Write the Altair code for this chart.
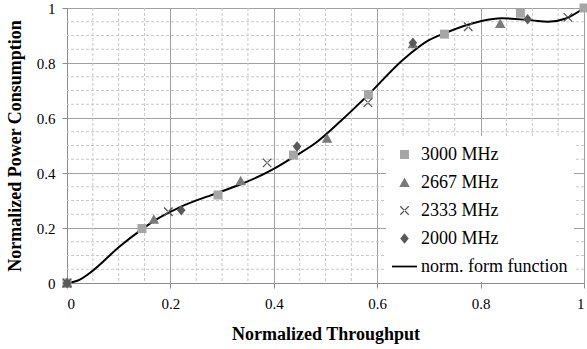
import altair as alt
import pandas as pd

series_names = ["3000 MHz", "2667 MHz", "2333 MHz", "2000 MHz", "norm. form function"]

x_3000 = [0.0, 0.145, 0.292, 0.438, 0.583, 0.730, 0.877, 1.0]
y_3000 = [0.0, 0.198, 0.320, 0.465, 0.685, 0.905, 0.981, 1.0]
x_2667 = [0.0, 0.168, 0.336, 0.503, 0.669, 0.838]
y_2667 = [0.0, 0.232, 0.372, 0.526, 0.870, 0.944]
x_2333 = [0.0, 0.196, 0.387, 0.582, 0.776, 0.969]
y_2333 = [0.0, 0.259, 0.437, 0.656, 0.932, 0.966]
x_2000 = [0.0, 0.221, 0.445, 0.669, 0.891]
y_2000 = [0.0, 0.265, 0.496, 0.874, 0.959]

curve_x = [0.0, 0.02, 0.05, 0.1, 0.146, 0.17, 0.22, 0.29, 0.335, 0.4, 0.44, 0.48,
           0.53, 0.583, 0.65, 0.70, 0.73, 0.8, 0.84, 0.9, 0.93, 0.965, 1.0]
curve_y = [0.0, 0.008, 0.045, 0.13, 0.197, 0.228, 0.277, 0.327, 0.358, 0.415, 0.46, 0.508,
           0.59, 0.685, 0.812, 0.883, 0.908, 0.952, 0.963, 0.955, 0.95, 0.962, 1.0]

major_ticks = [0, 0.2, 0.4, 0.6, 0.8, 1.0]
minor_grid = [0.05, 0.1, 0.15, 0.25, 0.3, 0.35, 0.45, 0.5, 0.55,
              0.65, 0.7, 0.75, 0.85, 0.9, 0.95]

rows = []
for name, xs, ys in [("3000 MHz", x_3000, y_3000), ("2667 MHz", x_2667, y_2667),
                     ("2333 MHz", x_2333, y_2333), ("2000 MHz", x_2000, y_2000)]:
    for a, b in zip(xs, ys):
        rows.append({"series": name, "x": a, "y": b})
points_df = pd.DataFrame(rows)
curve_df = pd.DataFrame({"x": curve_x, "y": curve_y})
grid_df = pd.DataFrame({"v": minor_grid})

a, d = 0.34, 0.035
square = "M-0.36,-0.36L0.36,-0.36L0.36,0.36L-0.36,0.36Z"
triangle = "M0,-0.4L0.42,0.36L-0.42,0.36Z"
xmark = (f"M{-a+d},{-a-d}L{a+d},{a-d}L{a-d},{a+d}L{-a-d},{-a+d}Z"
         f"M{-a+d},{a+d}L{a+d},{-a+d}L{a-d},{-a-d}L{-a-d},{a-d}Z")
diamond = "M0,-0.42L0.34,0L0,0.42L-0.34,0Z"
bar = "M-1,-0.07L1,-0.07L1,0.07L-1,0.07Z"

shapes = [square, triangle, xmark, diamond, bar]
colors = ["#a6a6a6", "#7a7a7a", "#555555", "#595959", "#000000"]

FONT = "Liberation Serif"

xscale = alt.Scale(domain=[0, 1], nice=False)
yscale = alt.Scale(domain=[0, 1], nice=False)

x_axis = alt.Axis(values=major_ticks, format=".1~f", title="Normalized Throughput",
                  grid=True, gridColor="#a0a0a0", domainColor="#8c8c8c", tickColor="#8c8c8c",
                  tickSize=5, labelPadding=8, titlePadding=14,
                  labelFont=FONT, labelFontSize=15, labelColor="black",
                  titleFont=FONT, titleFontSize=18, titleFontWeight="bold", titleColor="black")
y_axis = alt.Axis(values=major_ticks, format=".1~f", title="Normalized Power Consumption",
                  grid=True, gridColor="#a0a0a0", domainColor="#8c8c8c", tickColor="#8c8c8c",
                  tickSize=5, labelPadding=7, titlePadding=12,
                  labelFont=FONT, labelFontSize=15, labelColor="black",
                  titleFont=FONT, titleFontSize=18, titleFontWeight="bold", titleColor="black")

vgrid = alt.Chart(grid_df).mark_rule(color="#c8c8c8", strokeDash=[3, 2], strokeWidth=1).encode(
    x=alt.X("v:Q", scale=xscale, axis=x_axis)
)
hgrid = alt.Chart(grid_df).mark_rule(color="#c8c8c8", strokeDash=[3, 2], strokeWidth=1).encode(
    y=alt.Y("v:Q", scale=yscale, axis=y_axis)
)

line = alt.Chart(curve_df).mark_line(color="black", strokeWidth=2, interpolate="monotone").encode(
    x=alt.X("x:Q", scale=xscale, axis=x_axis),
    y=alt.Y("y:Q", scale=yscale, axis=y_axis),
)

legend = alt.Legend(
    title=None, orient="none", legendX=319, legendY=128,
    fillColor="white", padding=6, symbolSize=625, symbolStrokeWidth=0,
    symbolOpacity=1, labelFont=FONT, labelFontSize=18, labelColor="black",
    labelLimit=300, labelOffset=4, rowPadding=6,
)

pts = alt.Chart(points_df).mark_point(filled=True, opacity=1, size=625, strokeWidth=0).encode(
    x=alt.X("x:Q", scale=xscale, axis=x_axis),
    y=alt.Y("y:Q", scale=yscale, axis=y_axis),
    shape=alt.Shape("series:N", scale=alt.Scale(domain=series_names, range=shapes), legend=legend),
    color=alt.Color("series:N", scale=alt.Scale(domain=series_names, range=colors), legend=legend),
)

chart = alt.layer(vgrid, hgrid, line, pts).properties(
    width=517, height=275,
    background="white",
    autosize=alt.AutoSizeParams(type="none"),
    padding={"left": 67, "top": 8, "right": 3, "bottom": 66},
).configure_view(stroke=None)

chart.save("out.html", embed_options={"renderer": "svg", "actions": False})
